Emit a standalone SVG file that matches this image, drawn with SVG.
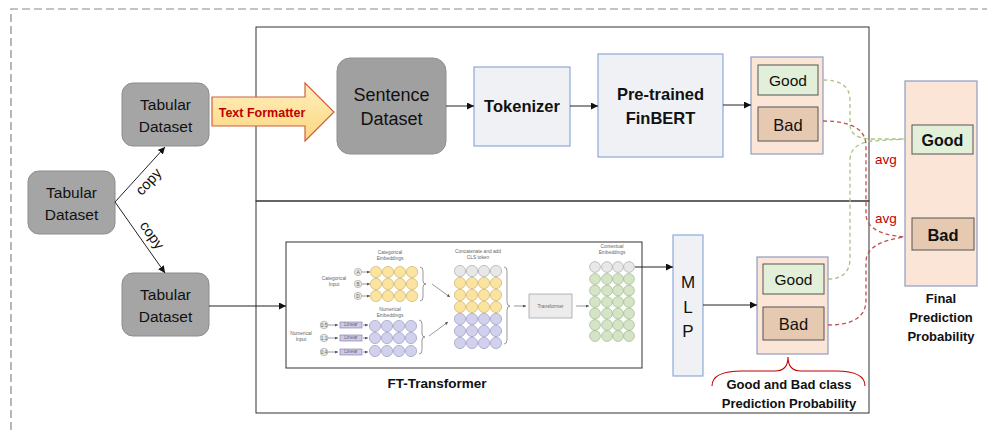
<svg xmlns="http://www.w3.org/2000/svg" width="987" height="430" viewBox="0 0 987 430">
<style>
text{font-family:"Liberation Sans",Arial,sans-serif;fill:#111}
.tab{fill:#a5a5a5;stroke:#8c8c8c;stroke-width:1}
.t15{font-size:15.5px;text-anchor:middle}
.b{font-weight:bold}
.pbox{fill:#fbe5d6;stroke:#8f9cc4;stroke-width:1.2}
.good{fill:#e2f0d9;stroke:#555;stroke-width:1}
.bad{fill:#e6c9b1;stroke:#555;stroke-width:1}
.blue{fill:#eff1f5;stroke:#8eaadb;stroke-width:1.2}
.conn{fill:none;stroke:#222;stroke-width:1}
.gd{fill:none;stroke:#a9c383;stroke-width:1.3;stroke-dasharray:4 3}
.rd{fill:none;stroke:#c0504d;stroke-width:1.3;stroke-dasharray:4 3}
.tiny{font-size:4.8px;fill:#666;text-anchor:middle}
.cy{fill:#fbe3a0;stroke:#cfb36a;stroke-width:0.7}
.cp{fill:#d2d1ec;stroke:#9c9ac8;stroke-width:0.7}
.cg{fill:#d5e4c6;stroke:#9cb98a;stroke-width:0.7}
.cw{fill:#e8e8e8;stroke:#aaa;stroke-width:0.7}
.sa{fill:none;stroke:#555;stroke-width:0.6}
</style>
<defs>
<marker id="ah" viewBox="0 0 10 10" refX="10" refY="5" markerWidth="7" markerHeight="7" markerUnits="userSpaceOnUse" orient="auto"><path d="M0,0 L10,5 L0,10 z" fill="#111"/></marker>
<marker id="sm" viewBox="0 0 10 10" refX="10" refY="5" markerWidth="3" markerHeight="3" markerUnits="userSpaceOnUse" orient="auto"><path d="M0,0 L10,5 L0,10 z" fill="#555"/></marker>
<linearGradient id="yg" x1="0" y1="0" x2="0" y2="1"><stop offset="0" stop-color="#fff0bf"/><stop offset="1" stop-color="#fcd67d"/></linearGradient>
</defs>

<!-- outer dashed frame -->
<path d="M11,430 L11,9 L987,9" fill="none" stroke="#888" stroke-width="1.2" stroke-dasharray="8 4"/>

<!-- panels -->
<g id="panels" fill="none" stroke="#333" stroke-width="1">
<rect x="256" y="27" width="613" height="174"/>
<rect x="256" y="201" width="613" height="212"/>
</g>

<g id="tab0"><rect class="tab" x="28" y="171" width="87" height="63" rx="11"/>
<text class="t15" x="71.5" y="198">Tabular</text><text class="t15" x="71.5" y="220">Dataset</text></g>
<g id="tab1"><rect class="tab" x="122" y="83" width="87" height="63" rx="11"/>
<text class="t15" x="165.5" y="110">Tabular</text><text class="t15" x="165.5" y="132">Dataset</text></g>
<g id="tab2"><rect class="tab" x="122" y="273" width="87" height="63" rx="11"/>
<text class="t15" x="165.5" y="300">Tabular</text><text class="t15" x="165.5" y="322">Dataset</text></g>

<g id="formatter">
<path d="M212,97 L305,97 L305,83 L334,112 L305,141 L305,126 L212,126 z" fill="url(#yg)" stroke="#d0603c" stroke-width="1.2"/>
<text x="262" y="116.5" font-size="12.5" font-weight="bold" text-anchor="middle" style="fill:#c00000">Text Formatter</text>
</g>

<g id="sentence"><rect x="337" y="58" width="109" height="96" rx="13" fill="#a0a0a0" stroke="#909090"/>
<text x="391.5" y="101" font-size="18" text-anchor="middle">Sentence</text>
<text x="391.5" y="125" font-size="18" text-anchor="middle">Dataset</text></g>

<g id="tokenizer"><rect class="blue" x="474" y="67" width="96" height="79"/>
<text x="522" y="112" font-size="16.5" font-weight="bold" text-anchor="middle">Tokenizer</text></g>

<g id="finbert"><rect class="blue" x="598" y="54" width="125" height="103"/>
<text x="660.5" y="100" font-size="16.5" font-weight="bold" text-anchor="middle">Pre-trained</text>
<text x="660.5" y="124" font-size="16.5" font-weight="bold" text-anchor="middle">FinBERT</text></g>

<g id="prob-top"><rect class="pbox" x="751" y="57" width="72" height="97"/>
<rect class="good" x="758" y="65" width="60" height="30"/>
<text x="788" y="86" font-size="15.5" text-anchor="middle">Good</text>
<rect class="bad" x="758" y="107" width="60" height="34"/>
<text x="788" y="130.5" font-size="16.5" text-anchor="middle">Bad</text></g>

<g id="ftt">
<rect x="286" y="242" width="356" height="126" fill="#fff" stroke="#333" stroke-width="1"/>
<text class="tiny" x="390" y="254">Categorical</text><text class="tiny" x="390" y="260">Embeddings</text>
<text class="tiny" x="334" y="280">Categorical</text><text class="tiny" x="334" y="286">Input</text>
<g class="cw"><circle cx="358" cy="272" r="3.7"/><circle cx="358" cy="284" r="3.7"/><circle cx="358" cy="296" r="3.7"/></g>
<text class="tiny" x="358" y="273.7" font-size="4">A</text><text class="tiny" x="358" y="285.7" font-size="4">B</text><text class="tiny" x="358" y="297.7" font-size="4">D</text>
<g class="sa" marker-end="url(#sm)"><path d="M362,272 H370"/><path d="M362,284 H370"/><path d="M362,296 H370"/></g>
<g class="cy">
<circle cx="376" cy="272" r="5.6"/><circle cx="388" cy="272" r="5.6"/><circle cx="400" cy="272" r="5.6"/><circle cx="412" cy="272" r="5.6"/>
<circle cx="376" cy="284" r="5.6"/><circle cx="388" cy="284" r="5.6"/><circle cx="400" cy="284" r="5.6"/><circle cx="412" cy="284" r="5.6"/>
<circle cx="376" cy="296" r="5.6"/><circle cx="388" cy="296" r="5.6"/><circle cx="400" cy="296" r="5.6"/><circle cx="412" cy="296" r="5.6"/>
</g>
<path class="sa" d="M420,267 Q423,267 423,271 L423,281 Q423,284 426,284 Q423,284 423,287 L423,297 Q423,301 420,301"/>
<path class="sa" d="M432,284 L450,297" marker-end="url(#sm)"/>
<text class="tiny" x="390" y="311">Numerical</text><text class="tiny" x="390" y="317">Embeddings</text>
<text class="tiny" x="301" y="335">Numerical</text><text class="tiny" x="301" y="341">Input</text>
<g class="cw"><circle cx="324" cy="325" r="3.8"/><circle cx="324" cy="338" r="3.8"/><circle cx="324" cy="352" r="3.8"/></g>
<text class="tiny" x="324" y="326.5" font-size="3.6">0.5</text><text class="tiny" x="324" y="339.5" font-size="3.6">1.1</text><text class="tiny" x="324" y="353.5" font-size="3.6">0.4</text>
<g class="sa" marker-end="url(#sm)"><path d="M328,325 H338"/><path d="M328,338 H338"/><path d="M328,352 H338"/></g>
<g fill="#cdc9e6" stroke="#7a72b0" stroke-width="0.6"><rect x="340" y="322" width="22" height="6"/><rect x="340" y="335" width="22" height="6"/><rect x="340" y="349" width="22" height="6"/></g>
<text class="tiny" x="351" y="326.3" font-size="3.3">Linear</text><text class="tiny" x="351" y="339.3" font-size="3.3">Linear</text><text class="tiny" x="351" y="353.3" font-size="3.3">Linear</text>
<g class="sa" marker-end="url(#sm)"><path d="M363,325 H368"/><path d="M363,338 H368"/><path d="M363,352 H368"/></g>
<g class="cp">
<circle cx="375" cy="326" r="5.6"/><circle cx="387" cy="326" r="5.6"/><circle cx="399" cy="326" r="5.6"/><circle cx="411" cy="326" r="5.6"/>
<circle cx="375" cy="338" r="5.6"/><circle cx="387" cy="338" r="5.6"/><circle cx="399" cy="338" r="5.6"/><circle cx="411" cy="338" r="5.6"/>
<circle cx="375" cy="351" r="5.6"/><circle cx="387" cy="351" r="5.6"/><circle cx="399" cy="351" r="5.6"/><circle cx="411" cy="351" r="5.6"/>
</g>
<path class="sa" d="M419,320 Q422,320 422,324 L422,334 Q422,337 425,337 Q422,337 422,340 L422,350 Q422,354 419,354"/>
<path class="sa" d="M429,336 L448,322" marker-end="url(#sm)"/>
<text class="tiny" x="478" y="253">Concatenate and add</text><text class="tiny" x="478" y="259">CLS token</text>
<g class="cw"><circle cx="460" cy="271" r="5.6"/><circle cx="472" cy="271" r="5.6"/><circle cx="484" cy="271" r="5.6"/><circle cx="496" cy="271" r="5.6"/></g>
<g class="cy">
<circle cx="460" cy="283" r="5.6"/><circle cx="472" cy="283" r="5.6"/><circle cx="484" cy="283" r="5.6"/><circle cx="496" cy="283" r="5.6"/>
<circle cx="460" cy="295" r="5.6"/><circle cx="472" cy="295" r="5.6"/><circle cx="484" cy="295" r="5.6"/><circle cx="496" cy="295" r="5.6"/>
<circle cx="460" cy="307" r="5.6"/><circle cx="472" cy="307" r="5.6"/><circle cx="484" cy="307" r="5.6"/><circle cx="496" cy="307" r="5.6"/>
</g>
<g class="cp">
<circle cx="460" cy="319" r="5.6"/><circle cx="472" cy="319" r="5.6"/><circle cx="484" cy="319" r="5.6"/><circle cx="496" cy="319" r="5.6"/>
<circle cx="460" cy="331" r="5.6"/><circle cx="472" cy="331" r="5.6"/><circle cx="484" cy="331" r="5.6"/><circle cx="496" cy="331" r="5.6"/>
<circle cx="460" cy="343" r="5.6"/><circle cx="472" cy="343" r="5.6"/><circle cx="484" cy="343" r="5.6"/><circle cx="496" cy="343" r="5.6"/>
</g>
<path class="sa" d="M504,267 Q507,267 507,271 L507,302 Q507,306 510,306 Q507,306 507,310 L507,340 Q507,344 504,344"/>
<path class="sa" d="M514,306 H526" marker-end="url(#sm)"/>
<rect x="529" y="294" width="43" height="24" fill="#ececec" stroke="#999" stroke-width="0.7"/>
<text class="tiny" x="550.5" y="307.5" font-size="5">Transformer</text>
<path class="sa" d="M576,306 H589" marker-end="url(#sm)"/>
<text class="tiny" x="612" y="248">Contextual</text><text class="tiny" x="612" y="254">Embeddings</text>
<g class="cw"><circle cx="595" cy="267" r="5.4"/><circle cx="607" cy="267" r="5.4"/><circle cx="618" cy="267" r="5.4"/><circle cx="629" cy="267" r="5.4"/></g>
<g class="cg">
<circle cx="595" cy="279" r="5.4"/><circle cx="607" cy="279" r="5.4"/><circle cx="618" cy="279" r="5.4"/><circle cx="629" cy="279" r="5.4"/>
<circle cx="595" cy="290.5" r="5.4"/><circle cx="607" cy="290.5" r="5.4"/><circle cx="618" cy="290.5" r="5.4"/><circle cx="629" cy="290.5" r="5.4"/>
<circle cx="595" cy="302" r="5.4"/><circle cx="607" cy="302" r="5.4"/><circle cx="618" cy="302" r="5.4"/><circle cx="629" cy="302" r="5.4"/>
<circle cx="595" cy="313.5" r="5.4"/><circle cx="607" cy="313.5" r="5.4"/><circle cx="618" cy="313.5" r="5.4"/><circle cx="629" cy="313.5" r="5.4"/>
<circle cx="595" cy="325" r="5.4"/><circle cx="607" cy="325" r="5.4"/><circle cx="618" cy="325" r="5.4"/><circle cx="629" cy="325" r="5.4"/>
<circle cx="595" cy="336" r="5.4"/><circle cx="607" cy="336" r="5.4"/><circle cx="618" cy="336" r="5.4"/><circle cx="629" cy="336" r="5.4"/>
</g>
<text x="437" y="388" font-size="13.5" font-weight="bold" text-anchor="middle">FT-Transformer</text>
</g>

<g id="mlp"><rect class="blue" x="673" y="235" width="30" height="141"/>
<text x="688" y="288" font-size="17" text-anchor="middle">M</text>
<text x="688" y="313" font-size="17" text-anchor="middle">L</text>
<text x="688" y="337" font-size="17" text-anchor="middle">P</text></g>

<g id="prob-bottom"><rect class="pbox" x="757" y="257" width="71" height="97"/>
<rect class="good" x="763" y="264" width="61" height="30"/>
<text x="793.5" y="285" font-size="15.5" text-anchor="middle">Good</text>
<rect class="bad" x="763" y="307" width="61" height="33"/>
<text x="793.5" y="330" font-size="16.5" text-anchor="middle">Bad</text>
<path d="M712,386 Q712,371 742,371 L775,371 Q788,371 788,357 Q788,371 801,371 L836,371 Q865,371 865,386" fill="none" stroke="#c00000" stroke-width="1.1"/>
<text x="789" y="389" font-size="13" font-weight="bold" text-anchor="middle">Good and Bad class</text>
<text x="789" y="408" font-size="13" font-weight="bold" text-anchor="middle">Prediction Probability</text></g>

<g id="final"><rect class="pbox" x="905" y="81" width="72" height="205"/>
<rect class="good" x="912" y="125" width="61" height="29"/>
<text x="942.5" y="146" font-size="16" font-weight="bold" text-anchor="middle">Good</text>
<rect class="bad" x="912" y="218" width="62" height="32"/>
<text x="943" y="240.5" font-size="16.5" font-weight="bold" text-anchor="middle">Bad</text>
<text x="941" y="303" font-size="13" font-weight="bold" text-anchor="middle">Final</text>
<text x="941" y="322" font-size="13" font-weight="bold" text-anchor="middle">Prediction</text>
<text x="941" y="341" font-size="13" font-weight="bold" text-anchor="middle">Probability</text></g>

<g id="connectors">
<path class="conn" d="M115,202 L165,147" marker-end="url(#ah)"/>
<path class="conn" d="M115,202 L165,273" marker-end="url(#ah)"/>
<text x="152" y="185" font-size="14.5" text-anchor="middle" transform="rotate(-47.7 152 185)">copy</text>
<text x="148" y="238" font-size="14.5" text-anchor="middle" transform="rotate(54.8 148 238)">copy</text>
<path class="conn" d="M446,106 H474" marker-end="url(#ah)"/>
<path class="conn" d="M570,106 H598" marker-end="url(#ah)"/>
<path class="conn" d="M723,105 H751" marker-end="url(#ah)"/>
<path class="conn" d="M209,306 H286" marker-end="url(#ah)"/>
<path class="conn" d="M635,267 H673" marker-end="url(#ah)"/>
<path class="conn" d="M703,305 H757" marker-end="url(#ah)"/>
<path class="gd" d="M823,80 Q850,80 850,100 L850,124 Q850,139 872,139 L905,139"/>
<path class="gd" d="M828,279 Q850,279 850,258 L850,160 Q850,144 872,141 L905,139"/>
<path class="rd" d="M823,121 Q866,121 866,146 L866,214 Q866,234 905,237"/>
<path class="rd" d="M828,325 Q866,325 866,300 L866,262 Q866,242 905,237"/>
<text x="886" y="164" font-size="13.5" text-anchor="middle" style="fill:#c00000">avg</text>
<text x="886" y="223" font-size="13.5" text-anchor="middle" style="fill:#c00000">avg</text>
</g>
</svg>
